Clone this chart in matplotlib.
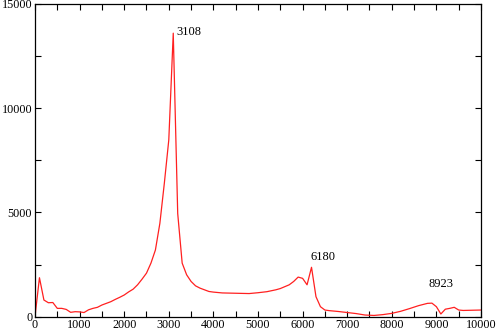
import numpy as np
import matplotlib
matplotlib.use("Agg")
import matplotlib.pyplot as plt
from matplotlib.ticker import MultipleLocator

# spectrum
freq = np.array([0, 100, 200, 300, 400, 500, 600, 700, 800, 900, 1000, 1100, 1200, 1300,
                 1400, 1500, 1600, 1700, 1800, 1900, 2000, 2100, 2200, 2300, 2400, 2500,
                 2600, 2700, 2800, 2900, 3000, 3100, 3200, 3300, 3400, 3500, 3600, 3700,
                 3800, 3900, 4000, 4200, 4400, 4600, 4800, 5000, 5200, 5400, 5500, 5600,
                 5700, 5800, 5900, 6000, 6100, 6200, 6300, 6400, 6500, 6600, 6800, 7000,
                 7200, 7400, 7600, 7800, 8000, 8200, 8400, 8600, 8800, 8900, 9000, 9100,
                 9200, 9300, 9400, 9500, 9600, 9800, 10000])
power = np.array([0, 1870, 800, 670, 680, 400, 400, 350, 210, 240, 230, 200, 330, 400,
                  450, 560, 640, 720, 830, 930, 1040, 1190, 1320, 1530, 1800, 2090,
                  2570, 3200, 4480, 6400, 8480, 13600, 4950, 2570, 2010, 1690, 1480, 1370,
                  1290, 1210, 1180, 1140, 1130, 1120, 1110, 1150, 1200, 1290, 1350, 1440,
                  1530, 1690, 1900, 1840, 1530, 2370, 960, 480, 320, 290, 250, 200,
                  150, 80, 60, 100, 160, 260, 390, 530, 640, 650, 480, 130,
                  360, 400, 450, 320, 300, 310, 320])

# peak labels
peak_text = ["3108", "6180", "8923"]
peak_x = [3180, 6180, 8830]
peak_y = [13650, 2850, 1580]

plt.rcParams['font.family'] = ['Liberation Serif', 'DejaVu Serif']

fig = plt.figure(figsize=(4.97, 3.30), dpi=100)
ax = fig.add_axes([0.0704, 0.0403, 0.8974, 0.9476])

ax.plot(freq, power, color='#ff2020', lw=0.9)
for t, px, py in zip(peak_text, peak_x, peak_y):
    ax.text(px, py, t, fontsize=9, ha='left', va='center')

ax.set_xlim(0, 10000)
ax.set_ylim(0, 15000)
ax.xaxis.set_major_locator(MultipleLocator(1000))
ax.xaxis.set_minor_locator(MultipleLocator(500))
ax.yaxis.set_major_locator(MultipleLocator(5000))
ax.yaxis.set_minor_locator(MultipleLocator(2500))
ax.tick_params(which='both', direction='in', top=True, right=True, length=4.5,
               width=0.8, labelsize=8.7, pad=2)
for s in ax.spines.values():
    s.set_linewidth(0.9)

fig.savefig("out.png", dpi=100)
